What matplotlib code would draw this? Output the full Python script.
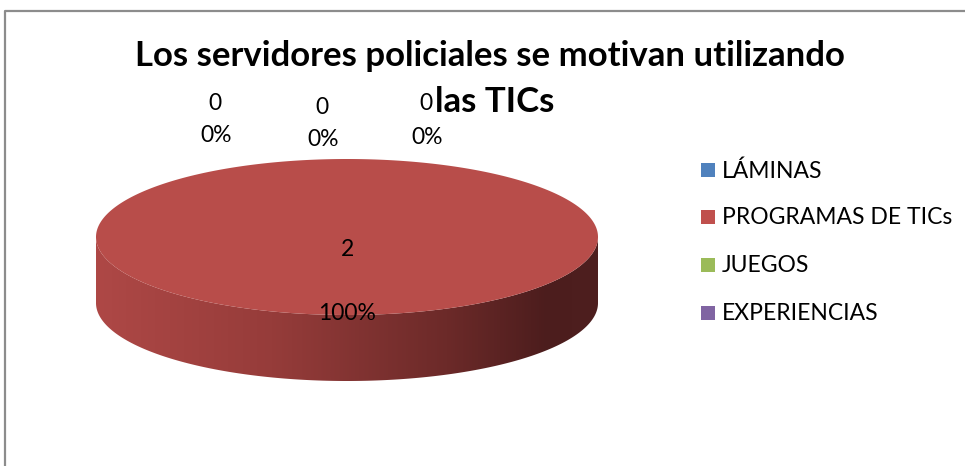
import numpy as np
import matplotlib
matplotlib.use("Agg")
import matplotlib.pyplot as plt
from matplotlib.patches import Polygon, Rectangle
from matplotlib.colors import LinearSegmentedColormap

# ---- data ----
categories = ["LÁMINAS", "PROGRAMAS DE TICs", "JUEGOS", "EXPERIENCIAS"]
values = [0, 2, 0, 0]
colors = ["#4F81BD", "#C0504D", "#9BBB59", "#8064A2"]
top_colors = ["#4F81BD", "#B84D4A", "#9BBB59", "#8064A2"]
title = "Los servidores policiales se motivan utilizando\nlas TICs"

W, H = 965, 466
fig = plt.figure(figsize=(W / 100, H / 100), dpi=100)
ax = fig.add_axes([0, 0, 1, 1])
ax.set_xlim(0, W)
ax.set_ylim(H, 0)
ax.axis("off")

FONT = "Lato"
LFS = 16.5

# frame (chart area border, partially visible)
ax.plot([4.5, 4.5, W], [H, 10.5, 10.5], color="#8C8C8C", lw=1.6, solid_capstyle="butt")

# ---- 3D pie geometry ----
cx, cy, a, b, depth = 347, 237, 251, 78, 66
total = sum(values)
fracs = [v / total for v in values]

# slice angles (start at 90 deg, clockwise, as in Excel)
start = 90.0
angles = []
for f in fracs:
    end = start - 360 * f
    angles.append((start, end))
    start = end

def ell(theta_deg, dy=0):
    t = np.radians(theta_deg)
    return cx + a * np.cos(t), cy - b * np.sin(t) + dy

# side wall (front half visible) with horizontal gradient
for (s, e), v in zip(angles, values):
    if v == 0:
        continue
    fr = np.linspace(180, 360, 400)
    xs_top, ys_top = ell(fr)
    xs_bot, ys_bot = ell(fr[::-1], depth)
    poly = np.column_stack([np.r_[xs_top, xs_bot], np.r_[ys_top, ys_bot]])
    clip = Polygon(poly, closed=True, facecolor="none", edgecolor="none")
    ax.add_patch(clip)
    cmap = LinearSegmentedColormap.from_list(
        "side", [(0.0, "#AE4846"), (0.35, "#963C3A"), (0.7, "#6C2A29"), (0.9, "#4C1D1D"), (1.0, "#4E1F1F")])
    grad = np.linspace(0, 1, 512)[None, :]
    im = ax.imshow(grad, cmap=cmap, extent=[cx - a, cx + a, cy + b + depth + 2, cy - 2],
                   aspect="auto", zorder=1, interpolation="bilinear")
    im.set_clip_path(clip)
    ax.set_xlim(0, W)
    ax.set_ylim(H, 0)

# top faces
for (s, e), v, c in zip(angles, values, top_colors):
    if v == 0:
        continue
    ths = np.linspace(s, e, 721)
    xs, ys = ell(ths)
    if abs(s - e) < 359.999:
        xs = np.r_[cx, xs]
        ys = np.r_[cy, ys]
    ax.add_patch(Polygon(np.column_stack([xs, ys]), closed=True, facecolor=c,
                         edgecolor="none", zorder=2))

# ---- labels ----
label_pos = [(216, 119), (347, 280), (323, 123), (427, 120)]
for (x, y), v, f in zip(label_pos, values, fracs):
    if v == 0:
        ax.text(x - 1, y - 16, f"{v}", ha="center", va="center", fontsize=LFS, family=FONT, zorder=5)
        ax.text(x, y + 17, f"{f:.0%}", ha="center", va="center", fontsize=LFS, family=FONT, zorder=5)
    else:
        ax.text(x, 250, f"{v}", ha="center", va="center", fontsize=LFS, family=FONT, zorder=5)
        ax.text(x, 313, f"{f:.0%}", ha="center", va="center", fontsize=LFS, family=FONT, zorder=5)

# title
t1, t2 = title.split("\n")
ax.text(490, 56, t1, ha="center", va="center", fontsize=25, fontweight="bold", family=FONT, zorder=4)
ax.text(495, 102, t2, ha="center", va="center", fontsize=25, fontweight="bold", family=FONT, zorder=4)

# legend
leg_y = [170, 217, 265, 313]
for name, c, y in zip(categories, colors, leg_y):
    ax.add_patch(Rectangle((701, y - 7), 14, 14, facecolor=c, edgecolor="none"))
    ax.text(722, y + 1, name, ha="left", va="center", fontsize=LFS, family=FONT)

fig.savefig("out.png", dpi=100)
